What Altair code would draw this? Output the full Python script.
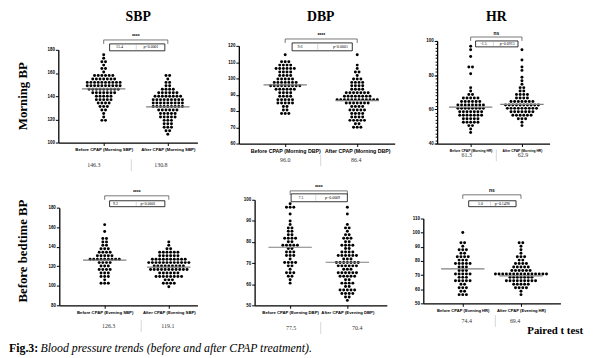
import altair as alt
import pandas as pd

# ---------------- data ----------------
titles = ["SBP", "DBP", "HR"]
row_labels = ["Morning BP", "Before bedtime BP"]
cat_labels = [
    ["Before CPAP (Morning SBP)", "After CPAP (Morning SBP)"],
    ["Before CPAP (Morning DBP)", "After CPAP (Morning DBP)"],
    ["Before CPAP (Morning HR)", "After CPAP (Morning HR)"],
    ["Before CPAP (Evening SBP)", "After CPAP (Evening SBP)"],
    ["Before CPAP (Evening DBP)", "After CPAP (Evening DBP)"],
    ["Before CPAP (Evening HR)", "After CPAP (Evening HR)"],
]
means = [[146.3, 130.8], [96.0, 86.4], [61.3, 62.9], [126.3, 119.1], [77.5, 70.4], [74.4, 69.4]]
mean_text = [["146.3", "130.8"], ["96.0", "86.4"], ["61.3", "62.9"], ["126.3", "119.1"], ["77.5", "70.4"], ["74.4", "69.4"]]
diffs = ["15.4", "9.6", "-1.5", "9.2", "7.1", "5.0"]
pvals = ["p<0.0001", "p<0.0001", "p=0.0915", "p<0.0001", "p=0.0009", "p=0.1498"]
sig = ["****", "****", "ns", "****", "****", "ns"]
y_domains = [[100, 180], [60, 120], [40, 100], [80, 180], [50, 100], [50, 110]]
y_ticks = [[100, 120, 140, 160, 180], [60, 70, 80, 90, 100, 110, 120], [40, 60, 80, 100],
           [80, 100, 120, 140, 160, 180], [50, 60, 70, 80, 90, 100], [50, 60, 70, 80, 90, 100, 110]]
hr_minor_ticks = list(range(40, 101, 2))

sbp_m_before = [175, 173, 171, 169, 167, 165, 163, 161, 159, 159, 158, 158, 157, 157, 156, 156, 155, 155, 155, 154,
                154, 153, 153, 153, 152, 152, 152, 152, 151, 151, 151, 150, 150, 150, 150, 149, 149, 149, 148, 148,
                148, 147, 147, 147, 146, 146, 146, 145, 145, 145, 144, 144, 143, 143, 143, 142, 142, 141, 141, 140,
                140, 139, 138, 138, 137, 137, 136, 135, 135, 134, 133, 132, 131, 130, 128, 127, 125, 122, 119, 118]
sbp_m_after = [158, 157, 155, 153, 151, 149, 148, 147, 146, 145, 145, 144, 144, 143, 143, 142, 142, 141, 141, 140,
               140, 140, 139, 139, 139, 138, 138, 137, 137, 137, 137, 136, 136, 136, 135, 135, 135, 134, 134, 134,
               133, 133, 133, 132, 132, 132, 131, 131, 131, 130, 130, 130, 129, 129, 128, 128, 127, 127, 126, 126,
               125, 125, 124, 123, 123, 122, 121, 121, 120, 119, 118, 117, 116, 115, 114, 113, 112, 111, 110, 108]
dbp_m_before = [115, 111, 110, 110, 109, 109, 108, 108, 107, 107, 106, 106, 105, 105, 104, 104, 103, 103, 102, 102,
                101, 101, 100, 100, 99, 99, 99, 98, 98, 98, 97, 97, 97, 97, 96, 96, 96, 96, 96, 95, 95, 95, 95,
                94, 94, 94, 93, 93, 93, 92, 92, 91, 91, 90, 90, 89, 89, 88, 88, 87, 87, 86, 85, 85, 85, 84, 84,
                83, 82, 81, 80, 79, 79, 78]
dbp_m_after = [115, 108, 106, 104, 103, 101, 100, 99, 99, 98, 98, 97, 97, 96, 96, 95, 95, 94, 94, 93, 93, 92, 92,
               92, 91, 91, 91, 91, 90, 90, 90, 90, 89, 89, 89, 89, 88, 88, 88, 88, 88, 87, 87, 87, 87, 86, 86, 86,
               85, 85, 85, 85, 84, 84, 84, 83, 83, 82, 82, 81, 81, 80, 80, 80, 79, 79, 78, 78, 77, 77, 76, 76, 75,
               75, 75, 74, 74, 73, 72, 71, 70, 70]
hr_m_before = [96, 95, 90, 85, 84, 80, 73, 70, 69, 68, 67, 67, 66, 66, 66, 65, 65, 65, 64, 64, 64, 63, 63, 63, 63,
               62, 62, 62, 62, 61, 61, 61, 61, 60, 60, 60, 60, 59, 59, 59, 59, 58, 58, 58, 57, 57, 57, 57, 56, 56,
               56, 55, 55, 55, 54, 54, 53, 53, 53, 52, 52, 51, 50, 49, 47]
hr_m_after = [94, 89, 84, 82, 79, 77, 75, 73, 72, 71, 70, 69, 69, 68, 68, 67, 67, 66, 66, 65, 65, 65, 64, 64, 64,
              64, 63, 63, 63, 63, 63, 62, 62, 62, 62, 62, 61, 61, 61, 61, 61, 60, 60, 60, 60, 59, 59, 59, 59, 58,
              58, 58, 57, 57, 57, 56, 56, 56, 55, 55, 54, 53, 51]
sbp_e_before = [164, 154, 148, 147, 145, 144, 142, 140, 139, 138, 137, 136, 135, 134, 133, 132, 131, 131, 130, 130,
                129, 129, 128, 128, 128, 127, 127, 126, 126, 125, 124, 123, 122, 121, 120, 119, 118, 117, 116, 115,
                114, 113, 112, 111, 110, 108, 106, 104, 104, 103]
sbp_e_after = [144, 141, 139, 138, 136, 135, 134, 134, 133, 133, 132, 132, 131, 131, 130, 130, 129, 129, 128, 128,
               127, 127, 127, 126, 126, 126, 125, 125, 125, 124, 124, 124, 123, 123, 123, 122, 122, 122, 121, 121,
               121, 120, 120, 120, 119, 119, 119, 118, 118, 118, 117, 117, 117, 116, 116, 116, 115, 115, 114, 114,
               113, 113, 112, 112, 111, 111, 110, 110, 109, 109, 108, 108, 107, 106, 105, 104, 103, 102, 101, 99]
dbp_e_before = [98, 97, 96, 96, 93, 90, 88, 87, 86, 85, 85, 84, 83, 82, 82, 81, 81, 80, 80, 79, 79, 78, 78, 78, 77,
                77, 76, 76, 75, 74, 74, 73, 72, 71, 71, 70, 70, 69, 68, 67, 66, 65, 65, 64, 63, 62, 61]
dbp_e_after = [97, 94, 88, 87, 86, 85, 84, 83, 82, 82, 81, 80, 80, 79, 79, 78, 78, 77, 77, 76, 76, 75, 75, 74, 74,
               74, 73, 73, 73, 72, 72, 72, 71, 71, 71, 70, 70, 70, 70, 69, 69, 69, 68, 68, 68, 67, 67, 67, 66, 66,
               66, 65, 65, 65, 64, 64, 64, 63, 63, 62, 62, 61, 61, 60, 60, 59, 59, 58, 58, 58, 57, 57, 56, 56, 55,
               55, 54, 54, 53]
hr_e_before = [100, 93, 92, 90, 89, 88, 87, 86, 85, 84, 83, 82, 82, 81, 80, 80, 79, 78, 78, 77, 77, 76, 75, 75, 74,
               74, 73, 72, 72, 71, 70, 70, 69, 69, 68, 67, 67, 66, 65, 65, 64, 63, 62, 61, 60, 59, 58, 57, 56, 56]
hr_e_after = [94, 92, 90, 89, 86, 84, 83, 82, 81, 80, 79, 78, 77, 77, 76, 76, 75, 75, 75, 74, 74, 74, 73, 73, 73,
              72, 72, 72, 72, 71, 71, 71, 71, 71, 71, 70, 70, 70, 70, 70, 69, 69, 69, 69, 68, 68, 68, 67, 67, 67,
              66, 66, 66, 65, 65, 65, 64, 64, 64, 63, 63, 62, 62, 61, 60, 59, 57]

groups = [(sbp_m_before, sbp_m_after), (dbp_m_before, dbp_m_after), (hr_m_before, hr_m_after),
          (sbp_e_before, sbp_e_after), (dbp_e_before, dbp_e_after), (hr_e_before, hr_e_after)]

# ---------------- layout (reference pixel coordinates) ----------------
OFF = 8
W, H = 592, 350
geom = [
    dict(ax=59, right=200, top=48, bot=142, cats=(105, 170), stars=34, br=38, box=(111, 167, 42, 49),
         dtx=121, ptx=153, div=138, my=165, mx=(95, 163), sep=133, lf=4.4),
    dict(ax=242, right=400, top=44, bot=143, cats=(289, 362), stars=33, br=37, box=(296, 357, 41, 49),
         dtx=304, ptx=345, div=322, my=160, mx=(289, 361), sep=325, lf=5.3),
    dict(ax=443, right=557, top=39, bot=143, cats=(477, 529), stars=31, br=35, box=(482, 525, 39, 45),
         dtx=490, ptx=514, div=500, my=155, mx=(473, 530), sep=503, lf=3.4),
    dict(ax=60, right=200, top=208, bot=307, cats=(106, 171), stars=192, br=196, box=(111, 167, 201, 207),
         dtx=117, ptx=150, div=138, my=328, mx=(110, 170), sep=143, lf=4.3),
    dict(ax=258, right=392, top=200, bot=307, cats=(294, 352), stars=187, br=191, box=(295, 352, 194, 202),
         dtx=305, ptx=337, div=320, my=330, mx=(295, 362), sep=325, lf=4.3),
    dict(ax=429, right=568, top=219, bot=305, cats=(469, 528), stars=190, br=195, box=(475, 523, 201, 207),
         dtx=487, ptx=509, div=497, my=323, mx=(473, 522), sep=502, lf=4.2),
]

def px(v):
    return v - OFF

SANS = "Liberation Sans"
SERIF = "Liberation Serif"
one = alt.Data(values=[{"k": 0}])

layers = []
for i, g in enumerate(geom):
    before, after = groups[i]
    r0, r1 = px(g["ax"]), px(g["right"])
    p0, p1 = px(g["cats"][0]), px(g["cats"][1])
    unit = p1 - p0
    d0 = -(p0 - r0) / unit
    d1 = (r1 - p0) / unit
    lo, hi = y_domains[i]
    xscale = alt.Scale(domain=[d0, d1], range=[r0, r1], nice=False, zero=False)
    yscale = alt.Scale(domain=[lo, hi], range=[px(g["bot"]), px(g["top"])], nice=False, zero=False)
    step = 3.5 * (hi - lo) / (g["bot"] - g["top"])
    dx = 3.7 / unit
    hw = 22 / unit

    xaxis = alt.Axis(orient="bottom", offset=px(g["bot"]) - H, values=[0, 1],
                     labelExpr=f"datum.value == 0 ? '{cat_labels[i][0]}' : '{cat_labels[i][1]}'",
                     title=None, grid=False, tickSize=3, labelFontSize=g["lf"], labelFont=SANS,
                     labelFontWeight="bold", labelAngle=0, labelColor="black", domainColor="black",
                     tickColor="black", domainWidth=1.3, tickWidth=1, labelPadding=2,
                     labelFlush=False, labelOverlap=False)
    yaxis = alt.Axis(orient="left", offset=-px(g["ax"]), values=y_ticks[i], title=None, grid=False,
                     tickSize=3, labelFontSize=4.5, labelFont=SANS, labelFontWeight="bold",
                     labelColor="black", domainColor="black", tickColor="black", domainWidth=1.3,
                     labelPadding=1, labelFlush=False, labelOverlap=False)

    df = pd.DataFrame({"v": before + after, "g": [0] * len(before) + [1] * len(after)})
    pts = (alt.Chart(df)
           .transform_calculate(yb=f"round(datum.v/{step})*{step}")
           .transform_window(r="row_number()", groupby=["g", "yb"])
           .transform_joinaggregate(n="count()", groupby=["g", "yb"])
           .transform_calculate(xo=f"datum.g + (datum.r - (datum.n + 1)/2)*{dx}")
           .mark_circle(size=9, color="black", opacity=1)
           .encode(x=alt.X("xo:Q", scale=xscale, axis=xaxis),
                   y=alt.Y("yb:Q", scale=yscale, axis=yaxis)))
    layers.append(pts)

    if i == 2:
        minor = alt.Axis(orient="left", offset=-px(g["ax"]), values=hr_minor_ticks, labels=False,
                         domain=False, grid=False, tickSize=2, tickColor="black", title=None)
        layers.append(alt.Chart(pd.DataFrame({"v": [lo]})).mark_point(opacity=0)
                      .encode(y=alt.Y("v:Q", scale=yscale, axis=minor)))

    mdf = pd.DataFrame({"g": [0, 1], "m": means[i]})
    mline = (alt.Chart(mdf)
             .transform_calculate(a=f"datum.g - {hw}", b=f"datum.g + {hw}")
             .mark_rule(color="#808080", strokeWidth=1.2)
             .encode(x=alt.X("a:Q", scale=xscale, axis=None), x2="b:Q",
                     y=alt.Y("m:Q", scale=yscale, axis=None)))
    layers.append(mline)

    # significance bracket
    bdf = pd.DataFrame({"g": [0], "h": [1], "s": [sig[i]]})
    layers.append(alt.Chart(bdf).mark_rule(color="#555", strokeWidth=0.8)
                  .encode(x=alt.X("g:Q", scale=xscale, axis=None), x2="h:Q", y=alt.value(px(g["br"]))))
    tdf = pd.DataFrame({"g": [0, 1]})
    layers.append(alt.Chart(tdf).mark_rule(color="#555", strokeWidth=0.8)
                  .encode(x=alt.X("g:Q", scale=xscale, axis=None),
                          y=alt.value(px(g["br"])), y2=alt.value(px(g["br"]) + 4)))
    layers.append(alt.Chart(bdf).transform_calculate(c="(datum.g + datum.h)/2")
                  .mark_text(fontSize=5, font=SANS, fontWeight="bold", baseline="middle")
                  .encode(x=alt.X("c:Q", scale=xscale, axis=None), y=alt.value(px(g["stars"])),
                          text="s:N"))
    bx0, bx1, by0, by1 = g["box"]
    layers.append(alt.Chart(one).mark_rect(fill="white", stroke="black", strokeWidth=0.8)
                  .encode(x=alt.value(px(bx0)), x2=alt.value(px(bx1)),
                          y=alt.value(px(by0)), y2=alt.value(px(by1))))
    layers.append(alt.Chart(one).mark_rule(color="#bbb", strokeWidth=0.6)
                  .encode(x=alt.value(px(g["div"])), y=alt.value(px(by0) + 1), y2=alt.value(px(by1) - 1)))
    ty = (px(by0) + px(by1)) / 2
    layers.append(alt.Chart(one).mark_text(fontSize=4, font=SERIF, baseline="middle")
                  .encode(x=alt.value(px(g["dtx"])), y=alt.value(ty), text=alt.value(diffs[i])))
    layers.append(alt.Chart(one).mark_text(fontSize=4, font=SERIF, baseline="middle")
                  .encode(x=alt.value(px(g["ptx"])), y=alt.value(ty), text=alt.value(pvals[i])))

    # means table under the panel
    for k in range(2):
        layers.append(alt.Chart(one).mark_text(fontSize=6, font=SERIF, baseline="middle", color="#333")
                      .encode(x=alt.value(px(g["mx"][k])), y=alt.value(px(g["my"])),
                              text=alt.value(mean_text[i][k])))
    layers.append(alt.Chart(one).mark_rule(color="#ccc", strokeWidth=0.8)
                  .encode(x=alt.value(px(g["sep"])), y=alt.value(px(g["my"]) - 6),
                          y2=alt.value(px(g["my"]) + 6)))

# column titles
for t, cx in zip(titles, [140, 325, 503]):
    layers.append(alt.Chart(one).mark_text(fontSize=14, font=SERIF, fontWeight="bold", baseline="middle")
                  .encode(x=alt.value(px(cx)), y=alt.value(px(15)), text=alt.value(t)))
# row labels
for t, cy in zip(row_labels, [95, 252]):
    layers.append(alt.Chart(one).mark_text(fontSize=13, font=SERIF, fontWeight="bold", angle=270,
                                           baseline="middle")
                  .encode(x=alt.value(px(23)), y=alt.value(px(cy)), text=alt.value(t)))
layers.append(alt.Chart(one).mark_text(fontSize=11, font=SERIF, fontWeight="bold", align="right",
                                       baseline="middle")
              .encode(x=alt.value(px(591)), y=alt.value(px(333)), text=alt.value("Paired t test")))
layers.append(alt.Chart(one).mark_text(fontSize=12, font=SERIF, fontWeight="bold", align="left",
                                       baseline="middle")
              .encode(x=alt.value(px(9)), y=alt.value(px(350)), text=alt.value("Fig.3:")))
layers.append(alt.Chart(one).mark_text(fontSize=12, font=SERIF, fontStyle="italic", align="left",
                                       baseline="middle")
              .encode(x=alt.value(px(41)), y=alt.value(px(350)),
                      text=alt.value("Blood pressure trends (before and after CPAP treatment).")))

chart = (alt.layer(*layers)
         .resolve_scale(x="independent", y="independent")
         .properties(width=W, height=H, autosize=alt.AutoSizeParams(type="none"), padding=0,
                     background="white")
         .configure_view(stroke=None))

chart.save("out.html", embed_options={"renderer": "svg", "actions": False})
